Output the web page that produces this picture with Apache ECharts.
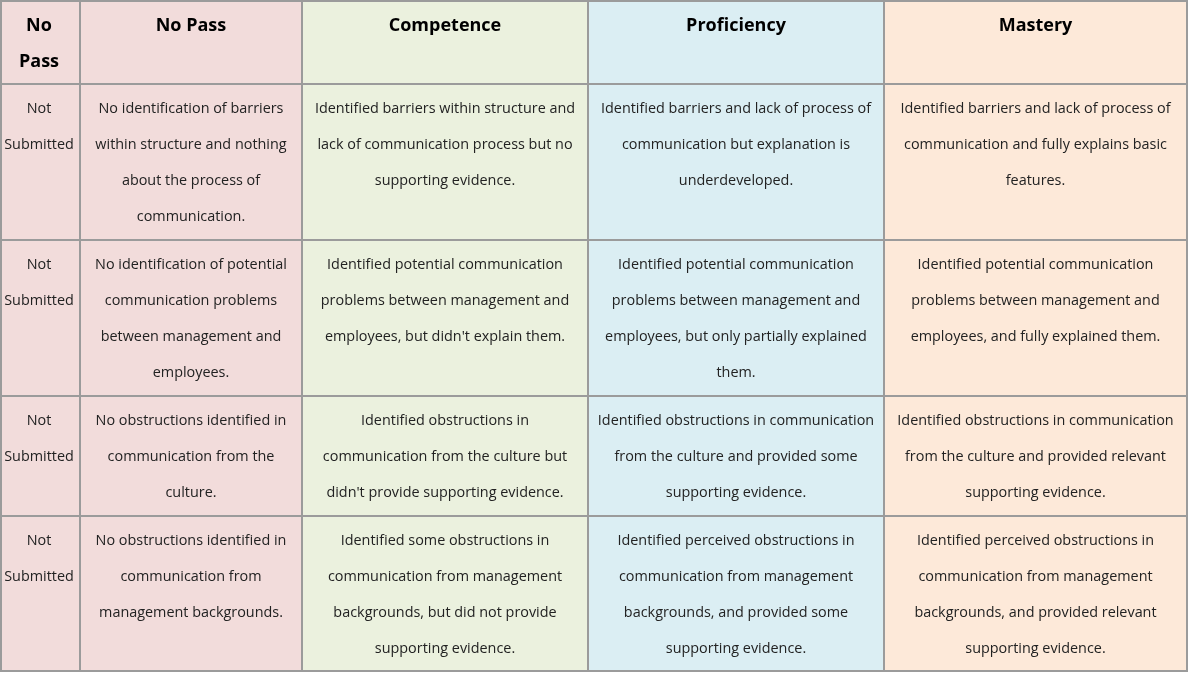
<!DOCTYPE html>
<html>
<head>
<meta charset="utf-8">
<title>Rubric</title>
<script src="https://cdn.jsdelivr.net/npm/echarts@6/dist/echarts.min.js"></script>
<style>
  html, body { margin: 0; padding: 0; background: #fff; }
  #main { width: 1188px; height: 673px; }
</style>
</head>
<body>
<div id="main"></div>
<script>
// column headings (levels of the rubric)
var levels = ['No\nPass', 'No Pass', 'Competence', 'Proficiency', 'Mastery'];
// first column of each criterion row
var rowLabels = ['Not\nSubmitted', 'Not\nSubmitted', 'Not\nSubmitted', 'Not\nSubmitted'];

// descriptors per level, one entry per criterion row
var noPass = [
	'No identification of barriers\nwithin structure and nothing\nabout the process of\ncommunication.',
	'No identification of potential\ncommunication problems\nbetween management and\nemployees.',
	'No obstructions identified in\ncommunication from the\nculture.',
	'No obstructions identified in\ncommunication from\nmanagement backgrounds.'
];
var competence = [
	'Identified barriers within structure and\nlack of communication process but no\nsupporting evidence.',
	'Identified potential communication\nproblems between management and\nemployees, but didn\'t explain them.',
	'Identified obstructions in\ncommunication from the culture but\ndidn\'t provide supporting evidence.',
	'Identified some obstructions in\ncommunication from management\nbackgrounds, but did not provide\nsupporting evidence.'
];
var proficiency = [
	'Identified barriers and lack of process of\ncommunication but explanation is\nunderdeveloped.',
	'Identified potential communication\nproblems between management and\nemployees, but only partially explained\nthem.',
	'Identified obstructions in communication\nfrom the culture and provided some\nsupporting evidence.',
	'Identified perceived obstructions in\ncommunication from management\nbackgrounds, and provided some\nsupporting evidence.'
];
var mastery = [
	'Identified barriers and lack of process of\ncommunication and fully explains basic\nfeatures.',
	'Identified potential communication\nproblems between management and\nemployees, and fully explained them.',
	'Identified obstructions in communication\nfrom the culture and provided relevant\nsupporting evidence.',
	'Identified perceived obstructions in\ncommunication from management\nbackgrounds, and provided relevant\nsupporting evidence.'
];

// layout of the table (in axis units = pixels)
var colEdges = [1, 80, 302, 588, 884, 1187];
var rowEdges = [1, 84, 240, 396, 516, 671];
var colColors = ['#f2dcdb', '#f2dcdb', '#ebf1de', '#dbeef3', '#fde9d9'];

var cells = [];
for (var c = 0; c < levels.length; c++) {
	cells.push([c, 0, levels[c]]);
}
var columns = [rowLabels, noPass, competence, proficiency, mastery];
for (var r = 0; r < rowLabels.length; r++) {
	for (var c = 0; c < columns.length; c++) {
		cells.push([c, r + 1, columns[c][r]]);
	}
}

var myChart = echarts.init(document.getElementById('main'));

function renderCell(params, api) {
	var col = api.value(0);
	var row = api.value(1);
	var txt = cells[params.dataIndex][2];
	var p0 = api.coord([colEdges[col], rowEdges[row]]);
	var p1 = api.coord([colEdges[col + 1], rowEdges[row + 1]]);
	var isHead = row === 0;
	// first column text sits a little left of centre in the original
	var cx = (p0[0] + p1[0]) / 2 - (col === 0 ? 1.5 : 0);
	return {
		type: 'group',
		children: [
			{
				type: 'rect',
				shape: { x: p0[0], y: p0[1], width: p1[0] - p0[0], height: p1[1] - p0[1] },
				style: { fill: colColors[col], stroke: '#9b9b9b', lineWidth: 2 }
			},
			{
				type: 'text',
				z2: 10,
				style: {
					text: txt,
					x: cx,
					y: p0[1] + 7,
					align: 'center',
					verticalAlign: 'top',
					fontFamily: 'Open Sans',
					fontSize: isHead ? 18 : 14.4,
					fontWeight: isHead ? 'bold' : 'normal',
					lineHeight: 36,
					fill: isHead ? '#000' : '#222'
				}
			}
		]
	};
}

var option = {
	animation: false,
	grid: { left: 0, right: 0, top: 0, bottom: 0 },
	xAxis: { type: 'value', min: 0, max: 1188, show: false },
	yAxis: { type: 'value', min: 0, max: 673, inverse: true, show: false },
	series: [
		{
			type: 'custom',
			renderItem: renderCell,
			encode: { x: 0, y: 1 },
			data: cells.map(function (d) { return [d[0], d[1]]; })
		}
	]
};

myChart.setOption(option);
</script>
</body>
</html>
